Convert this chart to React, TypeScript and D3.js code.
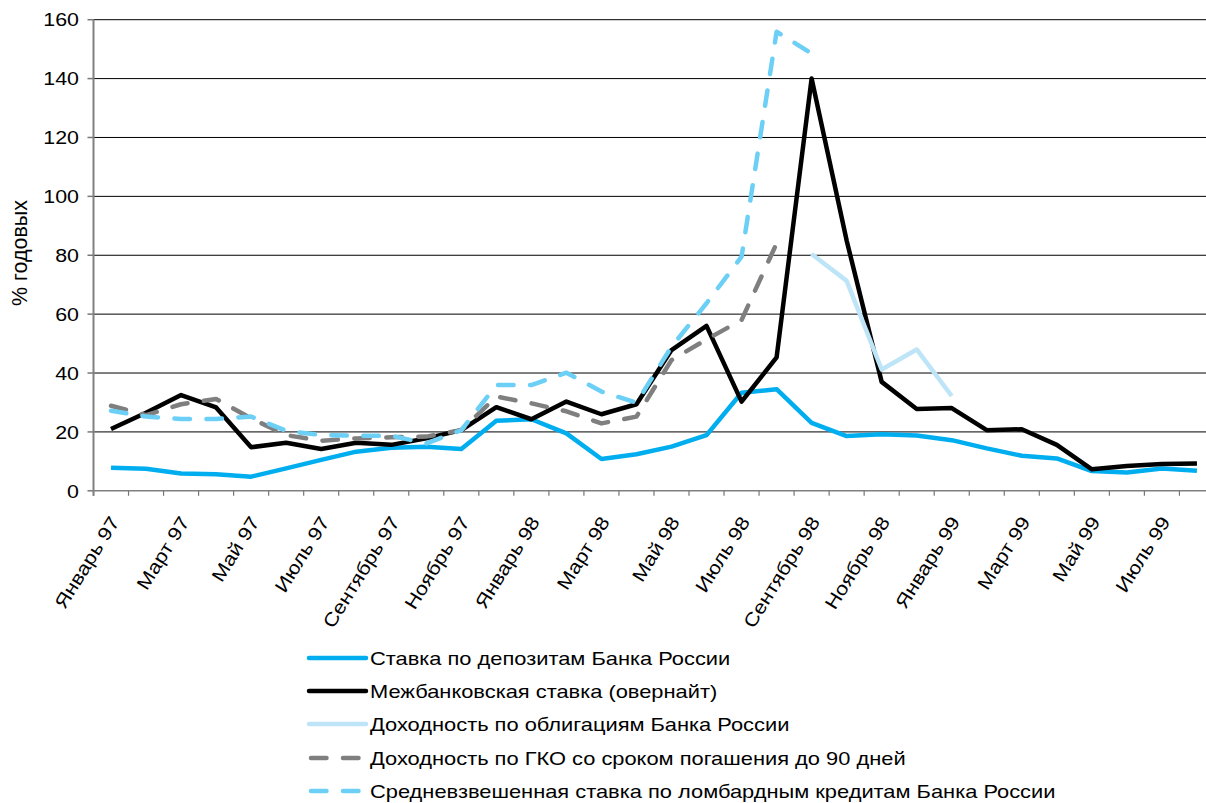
import React from "react";
import * as d3 from "d3";

const months = [
  "Январь 97", "Февраль 97", "Март 97", "Апрель 97", "Май 97", "Июнь 97", "Июль 97", "Август 97",
  "Сентябрь 97", "Октябрь 97", "Ноябрь 97", "Декабрь 97",
  "Январь 98", "Февраль 98", "Март 98", "Апрель 98", "Май 98", "Июнь 98", "Июль 98", "Август 98",
  "Сентябрь 98", "Октябрь 98", "Ноябрь 98", "Декабрь 98",
  "Январь 99", "Февраль 99", "Март 99", "Апрель 99", "Май 99", "Июнь 99", "Июль 99", "Август 99",
];

const depositRate = [7.8, 7.5, 5.9, 5.6, 4.8, 7.6, 10.5, 13.3, 14.6, 15.0, 14.2, 23.8, 24.3, 19.5, 10.8, 12.4,
  15.0, 18.9, 33.3, 34.5, 23.1, 18.6, 19.2, 18.8, 17.2, 14.4, 11.9, 11.0, 6.7, 6.2, 7.6, 6.8];

const interbankRate = [21.0, 26.5, 32.5, 28.3, 14.8, 16.3, 14.2, 16.3, 15.6, 17.8, 20.6, 28.4, 24.3, 30.3, 26.0, 29.4,
  47.8, 56.0, 30.3, 45.3, 140.0, 85.0, 37.0, 27.8, 28.1, 20.6, 20.9, 15.6, 7.3, 8.4, 9.1, 9.3];

const bondYield: (number | null)[] = [null, null, null, null, null, null, null, null, null, null, null, null,
  null, null, null, null, null, null, null, null, 80.4, 71.3, 41.2, 48.0, 32.2, null, null, null, null, null, null, null];

const gkoYield: (number | null)[] = [28.9, 25.7, 29.4, 31.2, 24.6, 18.9, 17.0, 17.8, 18.2, 18.4, 20.6, 32.0, 29.7, 27.0, 22.9, 25.2,
  44.4, 51.4, 58.0, 84.0, null, null, null, null, null, null, null, null, null, null, null, null];

const lombardRate: (number | null)[] = [27.2, 25.2, 24.4, 24.4, 25.2, 20.4, 18.9, 18.7, 18.7, 16.1, 20.6, 35.9, 35.9, 40.1, 33.7, 29.9,
  48.9, 63.7, 79.5, 155.9, 148.5, null, null, null, null, null, null, null, null, null, null, null];

const yTicks = [0, 20, 40, 60, 80, 100, 120, 140, 160];

const seriesNames = [
  "Ставка по депозитам Банка России",
  "Межбанковская ставка (овернайт)",
  "Доходность по облигациям Банка России",
  "Доходность по ГКО со сроком погашения до 90 дней",
  "Средневзвешенная ставка по ломбардным кредитам Банка России",
];

const seriesData = [depositRate, interbankRate, bondYield, gkoYield, lombardRate];
const seriesColors = ["#00AEEF", "#000000", "#BDE5F7", "#7F7F7F", "#6CCFF6"];
const seriesDash = [null, null, null, "15.5 16.5", "15.5 16.5"];

const W = 1206;
const H = 803;
const left = 93.5;
const bandW = 35.03;
const font = "'Liberation Sans', Arial, sans-serif";
const stretch = 1.15;
const legendStretch = 1.175;

export default function App() {
  const x = d3
    .scaleBand<number>()
    .domain(months.map((_, i) => i))
    .range([left, left + bandW * months.length])
    .padding(0);
  const cx = (i: number) => (x(i) as number) + x.bandwidth() / 2;
  const y = d3.scaleLinear().domain([0, 160]).range([490.8, 19.7]);

  const line = d3
    .line<number | null>()
    .defined((d) => d !== null)
    .x((_, i) => cx(i))
    .y((d) => y(d as number));

  const legendRows = [658, 691, 724, 758, 791];

  return (
    <svg
      width={W}
      height={H}
      style={{ position: "absolute", left: 0, top: 0, background: "#fff" }}
      fontFamily={font}
    >
      <rect x={0} y={0} width={W} height={H} fill="#fff" />
      {/* gridlines */}
      {yTicks.filter((t) => t > 0).map((t) => (
        <line key={t} x1={left} x2={W} y1={y(t)} y2={y(t)} stroke="#000" strokeWidth={1} />
      ))}
      {/* y ticks and labels */}
      {yTicks.map((t) => (
        <g key={"yt" + t}>
          <line x1={left - 6} x2={left} y1={y(t)} y2={y(t)} stroke="#777" strokeWidth={1.5} />
          <text
            transform={`translate(79,${y(t) + 6.7}) scale(${stretch},1)`}
            textAnchor="end"
            fontSize={18.6}
            fill="#000"
          >
            {t}
          </text>
        </g>
      ))}
      {/* x axis */}
      <line x1={left} x2={W} y1={y(0)} y2={y(0)} stroke="#808080" strokeWidth={1.5} />
      {months.map((_, i) => (
        <line key={"xt" + i} x1={x(i) as number} x2={x(i) as number} y1={y(0)} y2={y(0) + 5}
          stroke="#777" strokeWidth={1.2} />
      ))}
      <line x1={left} x2={left} y1={y(160)} y2={y(0) + 5} stroke="#808080" strokeWidth={2} />
      {/* x labels */}
      {months.map((m, i) =>
        i % 2 === 0 ? (
          <text
            key={"xl" + i}
            transform={`translate(${cx(i) + 9},${y(0) + 31}) rotate(-58) scale(${stretch},1)`}
            textAnchor="end"
            fontSize={18.8}
            fill="#000"
          >
            {m}
          </text>
        ) : null
      )}
      {/* y title */}
      <text transform="translate(27,253) rotate(-90)" textAnchor="middle" fontSize={21.5} fill="#000">
        % годовых
      </text>
      {/* series */}
      {seriesData.map((s, k) => (
        <path
          key={"s" + k}
          d={line(s as (number | null)[]) || ""}
          fill="none"
          stroke={seriesColors[k]}
          strokeWidth={4.5}
          strokeLinejoin="round"
          strokeLinecap={seriesDash[k] ? "round" : "butt"}
          strokeDasharray={seriesDash[k] || undefined}
        />
      ))}
      {/* legend */}
      {seriesNames.map((n, k) => (
        <g key={"lg" + k}>
          <line
            x1={seriesDash[k] ? 311 : 309}
            x2={seriesDash[k] ? 363 : 366}
            y1={legendRows[k]}
            y2={legendRows[k]}
            stroke={seriesColors[k]}
            strokeWidth={4.5}
            strokeLinecap="round"
            strokeDasharray={seriesDash[k] ? "15.5 16.5" : undefined}
          />
          <text
            transform={`translate(370,${legendRows[k] + 6.7}) scale(${legendStretch},1)`}
            fontSize={18.6}
            fill="#000"
          >
            {n}
          </text>
        </g>
      ))}
    </svg>
  );
}
